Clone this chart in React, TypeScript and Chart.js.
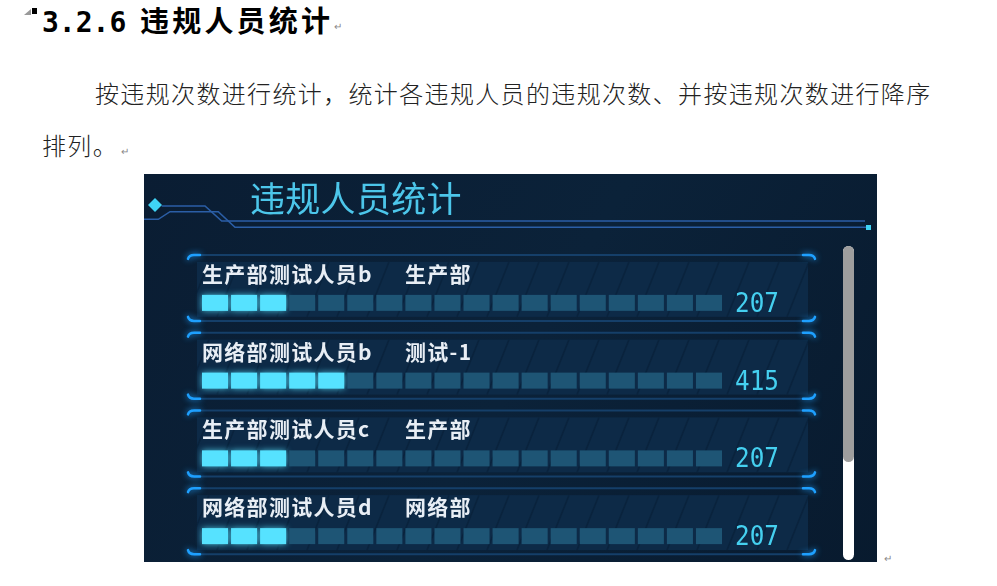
import React, { useEffect, useRef } from 'react';
import { Chart, registerables } from 'chart.js';

Chart.register(...registerables);

// ---- data ----
const personNames = ['生产部测试人员b', '网络部测试人员b', '生产部测试人员c', '网络部测试人员d'];
const departments = ['生产部', '测试-1', '生产部', '网络部'];
const violationCounts = [207, 415, 207, 207];
const axisMax = 1440;
const segmentCount = 18;
const panelTitle = '违规人员统计';
const headingNumber = '3.2.6';
const headingText = '违规人员统计';
const paragraphLine1 = '按违规次数进行统计，统计各违规人员的违规次数、并按违规次数进行降序';
const paragraphLine2 = '排列。';

const CJK = '"Noto Sans CJK SC", "Noto Sans", sans-serif';

const decorPlugin = {
  id: 'decor',
  beforeDraw(chart: any) {
    const { ctx, width, height, chartArea } = chart;
    const L = chartArea.left;
    const R = chartArea.right;
    ctx.save();
    const g = ctx.createLinearGradient(0, 0, width, height);
    g.addColorStop(0, '#0a1d33');
    g.addColorStop(0.5, '#0b2239');
    g.addColorStop(1, '#081a2e');
    ctx.fillStyle = g;
    ctx.fillRect(0, 0, width, height);

    // title
    ctx.font = '35px ' + CJK;
    ctx.fillStyle = '#4cc6ea';
    ctx.textBaseline = 'middle';
    ctx.textAlign = 'left';
    (ctx as any).letterSpacing = '0.3px';
    ctx.fillText(panelTitle, 106, 25);
    (ctx as any).letterSpacing = '0px';

    // header lines
    ctx.strokeStyle = '#2b5ea6';
    ctx.lineWidth = 1.6;
    ctx.beginPath();
    ctx.moveTo(0, 45.3);
    ctx.lineTo(14.3, 45.3);
    ctx.lineTo(26, 37.7);
    ctx.lineTo(74.3, 37.7);
    ctx.lineTo(91, 53.3);
    ctx.lineTo(722, 53.3);
    ctx.stroke();
    ctx.beginPath();
    ctx.moveTo(17.7, 32);
    ctx.lineTo(61, 32);
    ctx.lineTo(77.7, 47);
    ctx.lineTo(721, 47);
    ctx.stroke();
    ctx.fillStyle = '#3fd4f5';
    ctx.fillRect(722, 51, 5, 5);
    ctx.beginPath();
    ctx.moveTo(11, 24);
    ctx.lineTo(18, 31);
    ctx.lineTo(11, 38);
    ctx.lineTo(4, 31);
    ctx.closePath();
    ctx.fill();

    // cards
    const meta = chart.getDatasetMeta(0);
    meta.data.forEach((el: any) => {
      const c = el.y;
      const pl = L - 5;
      const pr = R + 83;
      const pt = c - 41;
      const pb = c + 14;
      ctx.fillStyle = '#0d2a47';
      ctx.fillRect(pl, pt, pr - pl, pb - pt);
      ctx.save();
      ctx.beginPath();
      ctx.rect(pl, pt, pr - pl, pb - pt);
      ctx.clip();
      ctx.strokeStyle = '#0a233d';
      ctx.lineWidth = 1.5;
      for (let x = pl - 40; x < pr + 40; x += 30) {
        ctx.beginPath();
        ctx.moveTo(x, pb);
        ctx.lineTo(x + 22, pt);
        ctx.stroke();
      }
      ctx.restore();

      ctx.strokeStyle = '#153f69';
      ctx.lineWidth = 2;
      ctx.beginPath();
      ctx.moveTo(L - 8, c - 48);
      ctx.lineTo(R + 80, c - 48);
      ctx.moveTo(L - 8, c + 18);
      ctx.lineTo(R + 80, c + 18);
      ctx.stroke();

      ctx.save();
      ctx.strokeStyle = '#1ea0ff';
      ctx.lineWidth = 2.5;
      ctx.lineCap = 'round';
      ctx.shadowColor = '#1ea0ff';
      ctx.shadowBlur = 6;
      const lx = L - 14;
      const rx = R + 90;
      ctx.beginPath();
      ctx.moveTo(lx, c - 44);
      ctx.quadraticCurveTo(lx + 1, c - 48, lx + 6, c - 48);
      ctx.lineTo(lx + 12, c - 48);
      ctx.moveTo(lx, c + 14);
      ctx.quadraticCurveTo(lx + 1, c + 18, lx + 6, c + 18);
      ctx.lineTo(lx + 12, c + 18);
      ctx.moveTo(rx - 12, c - 48);
      ctx.lineTo(rx - 6, c - 48);
      ctx.quadraticCurveTo(rx - 1, c - 48, rx, c - 44);
      ctx.moveTo(rx - 12, c + 18);
      ctx.lineTo(rx - 6, c + 18);
      ctx.quadraticCurveTo(rx - 1, c + 18, rx, c + 14);
      ctx.stroke();
      ctx.restore();
    });
    ctx.restore();
  },
  afterDatasetsDraw(chart: any) {
    const { ctx, chartArea } = chart;
    const xs = chart.scales.x;
    const L = chartArea.left;
    const R = chartArea.right;
    const segVal = axisMax / segmentCount;
    const meta = chart.getDatasetMeta(0);
    ctx.save();
    meta.data.forEach((el: any, i: number) => {
      const barEnd = el.x;
      const h = el.height;
      const top = el.y - h / 2;
      for (let k = 0; k < segmentCount; k++) {
        const x0 = xs.getPixelForValue(k * segVal);
        const x1 = xs.getPixelForValue((k + 1) * segVal);
        const lit = (x0 + x1) / 2 <= barEnd;
        ctx.save();
        if (lit) {
          ctx.fillStyle = '#56e2ff';
          ctx.shadowColor = 'rgba(86,226,255,0.8)';
          ctx.shadowBlur = 6;
        } else {
          ctx.fillStyle = '#1e5575';
        }
        ctx.fillRect(x0, top, x1 - x0 - 3, h);
        ctx.restore();
      }
      const c = el.y;
      ctx.textBaseline = 'middle';
      ctx.textAlign = 'left';
      ctx.font = 'bold 21px ' + CJK;
      ctx.fillStyle = '#e8eef5';
      (ctx as any).letterSpacing = '1.3px';
      ctx.fillText(personNames[i], L, c - 29);
      ctx.fillText(departments[i], L + 203, c - 29);
      (ctx as any).letterSpacing = '0px';
      ctx.font = '27px "DejaVu Sans Mono", monospace';
      ctx.fillStyle = '#45d0f0';
      ctx.save();
      ctx.translate(R + 10, c + 2);
      ctx.scale(0.9, 1);
      ctx.fillText(String(violationCounts[i]), 0, 0);
      ctx.restore();
    });
    ctx.restore();
  },
};

function ViolationChart() {
  const ref = useRef<HTMLCanvasElement | null>(null);
  useEffect(() => {
    if (!ref.current) return;
    const chart = new Chart(ref.current, {
      type: 'bar',
      data: {
        labels: personNames,
        datasets: [
          {
            data: violationCounts,
            backgroundColor: 'rgba(0,0,0,0)',
            borderWidth: 0,
            barThickness: 16,
          },
        ],
      },
      options: {
        indexAxis: 'y',
        responsive: false,
        animation: false,
        layout: { padding: { left: 58, right: 152, top: 90, bottom: 19 } },
        scales: {
          x: { display: false, min: 0, max: axisMax },
          y: { display: false },
        },
        plugins: { legend: { display: false }, tooltip: { enabled: false } },
      },
      plugins: [decorPlugin],
    } as any);
    let alive = true;
    if ((document as any).fonts) {
      Promise.all([
        (document as any).fonts.load('35px "Noto Sans CJK SC"', panelTitle),
        (document as any).fonts.load('bold 21px "Noto Sans CJK SC"', personNames.join('')),
        (document as any).fonts.load('27px "DejaVu Sans Mono"', '0123456789'),
      ]).then(() => {
        if (alive) chart.update();
      }).catch(() => {});
    }
    return () => {
      alive = false;
      chart.destroy();
    };
  }, []);
  return <canvas ref={ref} width={733} height={420} style={{ display: 'block', width: 733, height: 420 }} />;
}

export default function App() {
  return (
    <div
      style={{
        position: 'absolute',
        left: 0,
        top: 0,
        width: 997,
        height: 586,
        background: '#ffffff',
        overflow: 'hidden',
        fontFamily: CJK,
      }}
    >
      {/* heading mark */}
      <div
        style={{
          position: 'absolute',
          left: 24,
          top: 9,
          width: 0,
          height: 0,
          borderLeft: '7px solid transparent',
          borderBottom: '6px solid #999',
        }}
      />
      <div style={{ position: 'absolute', left: 32, top: 8, width: 5, height: 6, background: '#000' }} />
      <div
        style={{
          position: 'absolute',
          left: 42,
          top: 7.5,
          fontFamily: '"DejaVu Sans Mono", monospace',
          fontWeight: 'bold',
          fontSize: 28,
          lineHeight: '29px',
          color: '#000',
          whiteSpace: 'nowrap',
        }}
      >
        {headingNumber}
      </div>
      <div
        style={{
          position: 'absolute',
          left: 140,
          top: 5,
          fontWeight: 'bold',
          fontSize: 29,
          lineHeight: '29px',
          letterSpacing: '3.2px',
          color: '#000',
          whiteSpace: 'nowrap',
        }}
      >
        {headingText}
      </div>
      <div style={{ position: 'absolute', left: 334, top: 18, fontSize: 10, color: '#888' }}>↵</div>

      {/* paragraph */}
      <div
        style={{
          position: 'absolute',
          left: 95,
          top: 81,
          fontSize: 24,
          fontWeight: 300,
          lineHeight: '24px',
          letterSpacing: '1.35px',
          color: '#222',
          whiteSpace: 'nowrap',
        }}
      >
        {paragraphLine1}
      </div>
      <div
        style={{
          position: 'absolute',
          left: 42,
          top: 133,
          fontSize: 24,
          fontWeight: 300,
          lineHeight: '24px',
          letterSpacing: '1.35px',
          color: '#222',
          whiteSpace: 'nowrap',
        }}
      >
        {paragraphLine2}
      </div>
      <div style={{ position: 'absolute', left: 121, top: 143, fontSize: 10, color: '#888' }}>↵</div>

      {/* dashboard */}
      <div
        style={{
          position: 'absolute',
          left: 144,
          top: 174,
          width: 733,
          height: 388,
          overflow: 'hidden',
          background: '#0a1d33',
        }}
      >
        <ViolationChart />
        <div
          style={{
            position: 'absolute',
            left: 699,
            top: 72,
            width: 11,
            height: 314,
            borderRadius: 6,
            background: '#ffffff',
          }}
        />
        <div
          style={{
            position: 'absolute',
            left: 699,
            top: 72,
            width: 11,
            height: 216,
            borderRadius: 6,
            background: '#9e9e9e',
          }}
        />
      </div>
      <div style={{ position: 'absolute', left: 884, top: 550, fontSize: 10, color: '#888' }}>↵</div>
    </div>
  );
}
